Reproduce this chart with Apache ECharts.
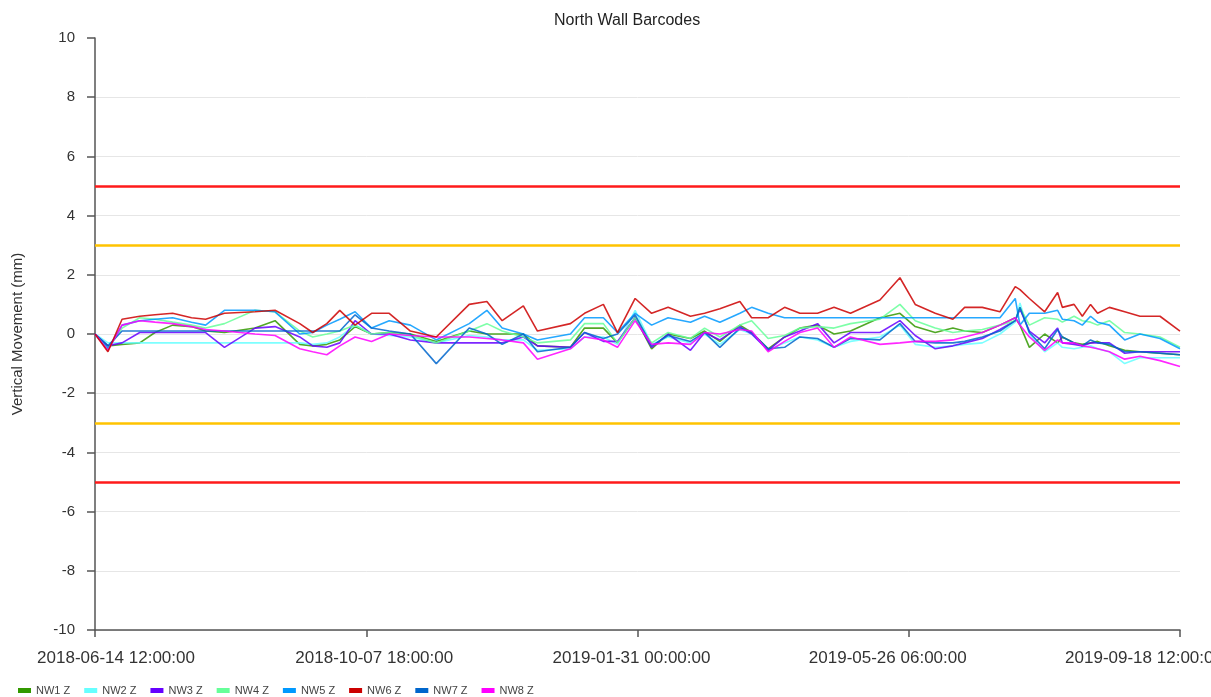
<!DOCTYPE html>
<html>
<head>
<meta charset="utf-8">
<title>North Wall Barcodes</title>
<script src="https://cdn.jsdelivr.net/npm/echarts@6/dist/echarts.min.js"></script>
<style>
  html, body { margin: 0; padding: 0; background: #fff; }
  #chart { width: 1211px; height: 697px; }
</style>
</head>
<body>
<div id="chart"></div>
<script>
// survey epochs, days after 2018-06-14 12:00
const days = [0, 5.5, 11.5, 19, 25.5, 33, 41, 47, 55, 68, 76.5, 87, 92.5, 98.5, 104, 110.5, 117.5, 125, 134, 145,
  159, 166.5, 173, 182, 188, 202, 208, 216, 222, 229.5, 236.5, 243.5, 253, 259, 265.5, 274, 279, 286, 293, 299.5,
  307, 314, 321, 333.5, 342, 348.5, 357, 364.5, 369.5, 377, 384.5, 391, 393, 397, 403.5, 409, 411, 416, 419.5, 423,
  426, 431, 437.5, 444, 452.5, 461];

const nw1 = [0, -0.4, -0.35, -0.3, 0.05, 0.3, 0.25, 0.1, 0.05, 0.2, 0.45, -0.35, -0.4, -0.35, -0.2, 0.25, 0, 0.05, 0, -0.25,
  0.1, 0, 0, 0, -0.4, -0.45, 0.2, 0.2, -0.3, 0.55, -0.5, 0, -0.15, 0.1, -0.25, 0.3, 0.05, -0.5, -0.1, 0.2,
  0.3, 0, 0.1, 0.55, 0.7, 0.25, 0.05, 0.2, 0.1, 0.05, 0.3, 0.55, 0.3, -0.45, 0, -0.3, -0.1, -0.3, -0.35, -0.3,
  -0.25, -0.4, -0.55, -0.6, -0.65, -0.7];
const nw2 = [0, -0.3, -0.3, -0.3, -0.3, -0.3, -0.3, -0.3, -0.3, -0.3, -0.3, -0.3, -0.35, -0.3, -0.1, 0.3, 0, -0.05, -0.1, -0.3,
  -0.05, -0.1, -0.2, -0.2, -0.55, -0.5, -0.1, -0.1, -0.35, 0.8, -0.35, -0.1, -0.3, 0, -0.35, 0.15, 0, -0.55, -0.3, -0.1,
  -0.2, -0.45, -0.25, -0.1, 0.3, -0.35, -0.45, -0.4, -0.35, -0.3, 0, 0.4, 1.05, 0, -0.6, -0.3, -0.45, -0.5, -0.45, -0.4,
  -0.5, -0.6, -1.0, -0.8, -0.8, -0.8];
const nw3 = [0, -0.4, -0.3, 0.05, 0.05, 0.05, 0.05, 0.05, -0.45, 0.2, 0.25, -0.1, -0.4, -0.45, -0.3, 0.45, 0, 0, -0.2, -0.3,
  -0.3, -0.3, -0.3, -0.1, -0.4, -0.45, 0.05, -0.25, -0.25, 0.55, -0.45, 0, -0.55, 0.05, -0.2, 0.25, 0, -0.55, -0.1, 0.1,
  0.35, -0.3, 0.05, 0.05, 0.45, -0.05, -0.5, -0.4, -0.3, -0.15, 0.15, 0.45, 0.85, 0.1, -0.3, 0.2, -0.3, -0.35, -0.4, -0.3,
  -0.3, -0.3, -0.65, -0.6, -0.6, -0.6];
const nw4 = [0, -0.5, 0.2, 0.55, 0.5, 0.4, 0.3, 0.2, 0.35, 0.8, 0.75, 0.1, -0.1, 0, 0.1, 0.3, 0, 0.05, -0.05, -0.3,
  0.1, 0.35, 0.1, -0.1, -0.3, -0.2, 0.35, 0.35, -0.3, 0.55, -0.3, 0.05, -0.15, 0.2, -0.1, 0.3, 0.45, -0.15, -0.05, 0.2,
  0.25, 0.2, 0.35, 0.5, 1.0, 0.45, 0.2, 0.05, 0.1, 0.15, 0.3, 0.45, 0.9, 0.3, 0.55, 0.5, 0.4, 0.6, 0.45, 0.4,
  0.3, 0.45, 0.05, 0, -0.1, -0.45];
const nw5 = [0, -0.5, 0.3, 0.45, 0.5, 0.55, 0.4, 0.3, 0.8, 0.8, 0.75, 0, 0.05, 0.3, 0.5, 0.75, 0.2, 0.45, 0.3, -0.2,
  0.35, 0.8, 0.2, 0, -0.2, 0, 0.55, 0.55, 0.05, 0.7, 0.3, 0.55, 0.4, 0.6, 0.4, 0.7, 0.9, 0.7, 0.55, 0.55,
  0.55, 0.55, 0.55, 0.55, 0.55, 0.55, 0.55, 0.55, 0.55, 0.55, 0.55, 1.2, 0.3, 0.7, 0.7, 0.8, 0.5, 0.45, 0.3, 0.6,
  0.4, 0.3, -0.2, 0, -0.15, -0.5];
const nw6 = [0, -0.6, 0.5, 0.6, 0.65, 0.7, 0.55, 0.5, 0.7, 0.75, 0.8, 0.35, 0.05, 0.35, 0.8, 0.3, 0.7, 0.7, 0.1, -0.1,
  1.0, 1.1, 0.45, 0.95, 0.1, 0.35, 0.7, 1.0, 0.05, 1.2, 0.7, 0.9, 0.6, 0.7, 0.85, 1.1, 0.55, 0.55, 0.9, 0.7,
  0.7, 0.9, 0.7, 1.15, 1.9, 1.0, 0.7, 0.5, 0.9, 0.9, 0.75, 1.6, 1.5, 1.2, 0.75, 1.4, 0.9, 1.0, 0.6, 1.0,
  0.7, 0.9, 0.75, 0.6, 0.6, 0.1];
const nw7 = [0, -0.4, 0.1, 0.1, 0.1, 0.1, 0.1, 0.1, 0.1, 0.1, 0.1, 0.1, 0.1, 0.1, 0.1, 0.65, 0.2, 0.1, 0, -1.0,
  0.2, 0, -0.35, 0, -0.6, -0.45, 0.05, -0.15, 0, 0.65, -0.4, -0.05, -0.25, 0.05, -0.45, 0.2, 0.05, -0.5, -0.45, -0.1,
  -0.15, -0.45, -0.15, -0.2, 0.35, -0.25, -0.3, -0.3, -0.25, -0.1, 0.1, 0.45, 0.9, 0.05, -0.5, 0.15, -0.1, -0.3, -0.4, -0.2,
  -0.3, -0.35, -0.6, -0.6, -0.65, -0.7];
const nw8 = [0, -0.55, 0.3, 0.45, 0.4, 0.35, 0.25, 0.15, 0.1, 0, -0.05, -0.5, -0.6, -0.7, -0.4, -0.1, -0.25, 0, -0.05, -0.1,
  -0.1, -0.15, -0.2, -0.3, -0.85, -0.5, -0.1, -0.2, -0.45, 0.45, -0.35, -0.3, -0.35, 0.05, 0, 0.15, 0.1, -0.6, -0.25, 0.05,
  0.2, -0.45, -0.1, -0.35, -0.3, -0.25, -0.25, -0.2, -0.1, 0.05, 0.3, 0.55, 0.3, -0.1, -0.55, -0.2, -0.3, -0.3, -0.4, -0.45,
  -0.5, -0.6, -0.85, -0.75, -0.9, -1.1];

const seriesNames = ['NW1 Z', 'NW2 Z', 'NW3 Z', 'NW4 Z', 'NW5 Z', 'NW6 Z', 'NW7 Z', 'NW8 Z'];
const seriesColors = ['#339900', '#66FFFF', '#6600FF', '#66FF99', '#0099FF', '#CC0000', '#0066CC', '#FF00FF'];
const allValues = [nw1, nw2, nw3, nw4, nw5, nw6, nw7, nw8];

const alarmLimit = 5;   // red
const alertLimit = 3;   // amber
const yTicks = [-10, 10, 2];

const startMs = Date.UTC(2018, 5, 14, 12);
const spanHours = 461 * 24;

function pad(n) { return (n < 10 ? '0' : '') + n; }
function fmtHours(h) {
  const d = new Date(startMs + h * 3600000);
  return d.getUTCFullYear() + '-' + pad(d.getUTCMonth() + 1) + '-' + pad(d.getUTCDate()) + ' ' +
    pad(d.getUTCHours()) + ':' + pad(d.getUTCMinutes()) + ':00';
}

// the source spreads its date labels a little tighter than the ticks
const labelShift = [21, 8, -6, -21, -36];
const rich = {};
labelShift.forEach((s, i) => {
  rich['l' + i] = {
    fontSize: 17, color: '#333', fontFamily: 'Liberation Sans',
    padding: s > 0 ? [0, 0, 0, 2 * s] : [0, -2 * s, 0, 0]
  };
});

const series = allValues.map((vals, i) => ({
  name: seriesNames[i],
  type: 'line',
  symbol: 'none',
  lineStyle: { width: 1.6, opacity: 0.85 },
  data: vals.map((v, k) => [days[k] * 24, v]),
  z: i === 5 ? 4 : 3
}));

// threshold lines
series[5].markLine = {
  silent: true,
  symbol: 'none',
  label: { show: false },
  data: [
    { yAxis: alarmLimit, lineStyle: { color: '#FF1A1A', width: 2.5, type: 'solid' } },
    { yAxis: -alarmLimit, lineStyle: { color: '#FF1A1A', width: 2.5, type: 'solid' } },
    { yAxis: alertLimit, lineStyle: { color: '#FFC300', width: 2.5, type: 'solid' } },
    { yAxis: -alertLimit, lineStyle: { color: '#FFC300', width: 2.5, type: 'solid' } }
  ]
};

const chart = echarts.init(document.getElementById('chart'));
chart.setOption({
  animation: false,
  color: seriesColors,
  title: {
    text: 'North Wall Barcodes',
    left: 549,
    top: 8,
    textStyle: { fontSize: 16, fontWeight: 'normal', color: '#222', fontFamily: 'Liberation Sans' }
  },
  legend: {
    data: seriesNames,
    left: 18,
    top: 685,
    padding: 0,
    icon: 'rect',
    itemWidth: 13,
    itemHeight: 5,
    itemGap: 14,
    textStyle: { fontSize: 11, color: '#444', fontFamily: 'Liberation Sans' }
  },
  grid: { left: 95, right: 31, top: 38, bottom: 67, outerBoundsMode: 'none' },
  xAxis: {
    type: 'value',
    min: 0,
    max: spanHours,
    interval: spanHours / 4,
    axisLine: { onZero: false, lineStyle: { color: '#555', width: 1.5 } },
    axisTick: { show: true, length: 7, lineStyle: { color: '#555', width: 1.5 } },
    splitLine: { show: false },
    axisLabel: {
      margin: 20,
      formatter: (v, i) => '{l' + i + '|' + fmtHours(v) + '}',
      rich: rich
    }
  },
  yAxis: {
    type: 'value',
    min: yTicks[0],
    max: yTicks[1],
    interval: yTicks[2],
    name: 'Vertical Movement (mm)',
    nameLocation: 'middle',
    nameGap: 70,
    nameTextStyle: { fontSize: 15, color: '#333', fontFamily: 'Liberation Sans' },
    axisLine: { show: true, lineStyle: { color: '#555', width: 1.5 } },
    axisTick: { show: true, length: 8, lineStyle: { color: '#555', width: 1.5 } },
    splitLine: { showMaxLine: false, lineStyle: { color: '#e6e6e6', width: 1 } },
    axisLabel: { color: '#333', fontSize: 15, margin: 20, fontFamily: 'Liberation Sans' }
  },
  series: series
});
</script>
</body>
</html>
